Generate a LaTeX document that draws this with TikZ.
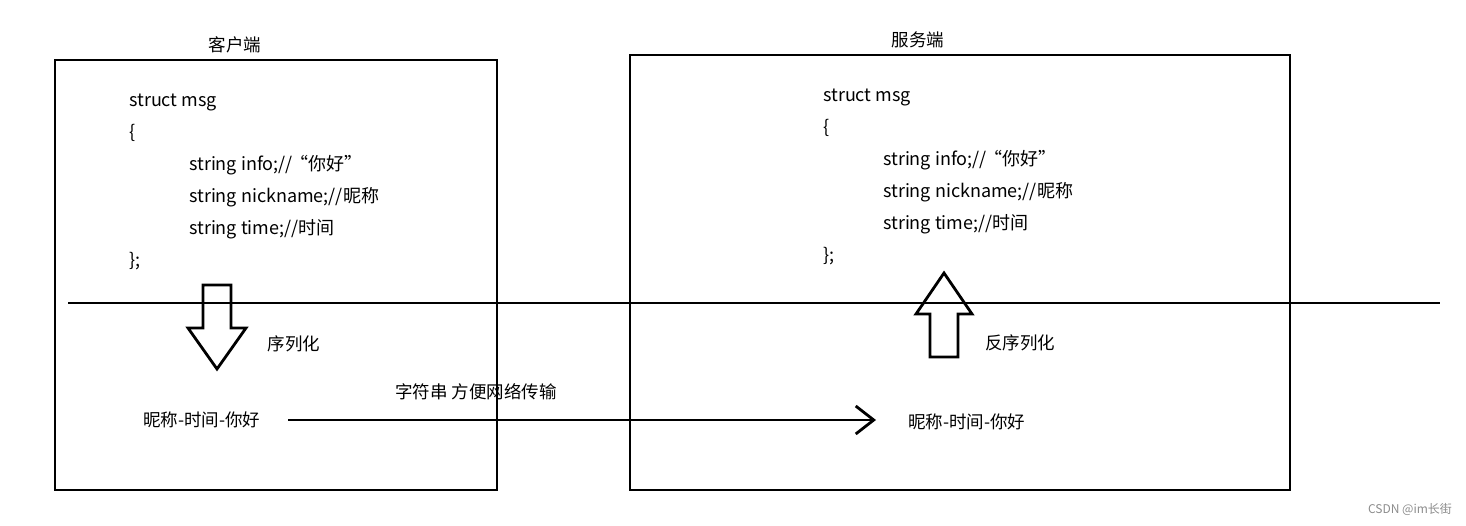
\documentclass[tikz,border=0pt]{standalone}
\usepackage{fontspec}
\setmainfont{Noto Sans CJK SC}
\usetikzlibrary{arrows.meta}
\begin{document}
\begin{tikzpicture}[x=1pt,y=-1pt,
  box/.style={draw=black,line width=2.5pt},
  blockarrow/.style={draw=black,line width=2.8pt,line join=miter},
  code/.style={anchor=base west,inner sep=0pt,font=\fontsize{18}{20}\selectfont},
  lbl/.style={inner sep=0pt,font=\fontsize{17.5}{20}\selectfont},
  wm/.style={inner sep=0pt,text=black!45,font=\fontsize{12}{13}\selectfont}]
\useasboundingbox (0,0) rectangle (1466,525);
% boxes
\draw[box] (55,60) rectangle (497,490);
\draw[box] (630,55) rectangle (1290,490);
% titles
\node[lbl] (t1) at (235,45) {客户端};
\node[lbl] (t2) at (918,40) {服务端};
% left code
\node[code] (l1) at (129,106) {struct msg};
\node[code] (l2) at (129,138) {\{};
\node[code] (l3) at (189,170) {string info;//\kern-2pt“你好”};
\node[code] (l4) at (189,202) {string nickname;//昵称};
\node[code] (l5) at (189,234) {string time;//时间};
\node[code] (l6) at (129,266) {\};};
% right code
\node[code] (r1) at (823,101) {struct msg};
\node[code] (r2) at (823,133) {\{};
\node[code] (r3) at (883,165) {string info;//\kern-2pt“你好”};
\node[code] (r4) at (883,197) {string nickname;//昵称};
\node[code] (r5) at (883,229) {string time;//时间};
\node[code] (r6) at (823,261) {\};};
% horizontal line
\coordinate (hl) at (68,303);
\coordinate (hr) at (1440,303);
\draw[line width=2.8pt] (hl) -- (hr);
% down block arrow
\draw[blockarrow] (203,285) -- (231,285) -- (231,328) -- (246,328) -- (217,369) -- (188,328) -- (203,328) -- cycle;
\node[lbl] (ser) at (294,344) {序列化};
% up block arrow
\draw[blockarrow] (930,357) -- (958,357) -- (958,314) -- (972,314) -- (944,273) -- (916,314) -- (930,314) -- cycle;
\node[lbl] (deser) at (1020,343) {反序列化};
% strings
\node[lbl,anchor=west] (s1) at (143,420) {昵称-时间-你好};
\node[lbl,anchor=west] (s2) at (908,422) {昵称-时间-你好};
\node[lbl] (note) at (476,392) {字符串 方便网络传输};
\coordinate (a1) at (288,420);
\coordinate (a2) at (876,420);
\draw[line width=2.8pt,-{Straight Barb[length=18pt,width=28pt,line width=2.8pt]}] (a1) -- (a2);
% watermark
\node[wm] (w) at (1410,509) {CSDN @im长街};
\end{tikzpicture}
\end{document}
